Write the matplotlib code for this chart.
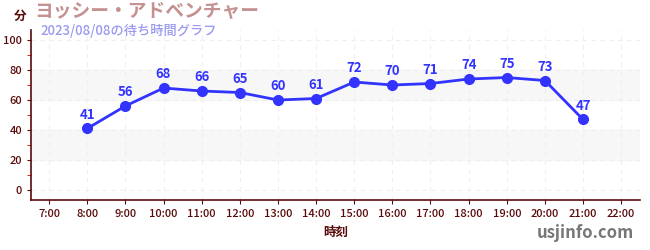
import matplotlib
matplotlib.use('Agg')
import matplotlib.pyplot as plt
import numpy as np

plt.rcParams['font.family'] = ['Noto Sans CJK JP', 'DejaVu Sans']

# wait times (minutes) by hour
hours = [8, 9, 10, 11, 12, 13, 14, 15, 16, 17, 18, 19, 20, 21]
waits = [41, 56, 68, 66, 65, 60, 61, 72, 70, 71, 74, 75, 73, 47]
tick_hours = list(range(7, 23))
tick_labels = [f'{h}:00' for h in tick_hours]
y_ticks = [0, 20, 40, 60, 80, 100]
bands = [(20, 40), (60, 80)]

title = 'ヨッシー・アドベンチャー'
subtitle = '2023/08/08の待ち時間グラフ'

dark = '#5a0a0a'
blue = '#3333ff'

fig = plt.figure(figsize=(6.5, 2.5), dpi=100)
ax = fig.add_axes([0.048, 0.2, 0.937, 0.68])

for lo, hi in bands:
    ax.axhspan(lo, hi, color='#f7f7f7', zorder=0)

ax.plot(hours, waits, color=blue, lw=2, marker='o', ms=7, zorder=3)
for h, w in zip(hours, waits):
    ax.annotate(str(w), (h, w), textcoords='offset points', xytext=(0, 5),
                ha='center', va='bottom', color=blue, fontsize=9.5, fontweight='bold')

ax.set_xlim(6.53, 22.5)
ax.set_ylim(-6.7, 106.7)
ax.set_xticks(tick_hours)
ax.set_xticklabels(tick_labels)
ax.set_yticks(y_ticks)
ax.set_yticks([10, 30, 50, 70, 90], minor=True)
ax.tick_params(axis='y', which='minor', length=3, color='#cc0000')
ax.tick_params(axis='both', which='major', length=3, color=dark, labelcolor=dark, labelsize=8)
for lbl in ax.get_xticklabels() + ax.get_yticklabels():
    lbl.set_fontweight('medium')
ax.grid(True, which='major', color='#efefef', ls=(0, (4, 4)), lw=0.8)

for s in ['top', 'right']:
    ax.spines[s].set_visible(False)
for s in ['left', 'bottom']:
    ax.spines[s].set_color(dark)
    ax.spines[s].set_linewidth(1.2)

ax.set_xlabel('時刻', color=dark, fontsize=9, fontweight='bold', labelpad=5)

fig.text(0.022, 0.935, '分', color=dark, fontsize=9, fontweight='bold', va='center')
fig.text(0.052, 0.955, title, color='#c49090', fontsize=13.5, fontweight='bold', va='center')
fig.text(0.062, 0.875, subtitle, color='#9999f0', fontsize=9.5, fontweight='medium', va='center')
fig.text(0.975, 0.07, 'usjinfo.com', color='#777777', fontsize=12, fontweight='bold',
         ha='right', va='center')

fig.savefig('out.png', dpi=100)
